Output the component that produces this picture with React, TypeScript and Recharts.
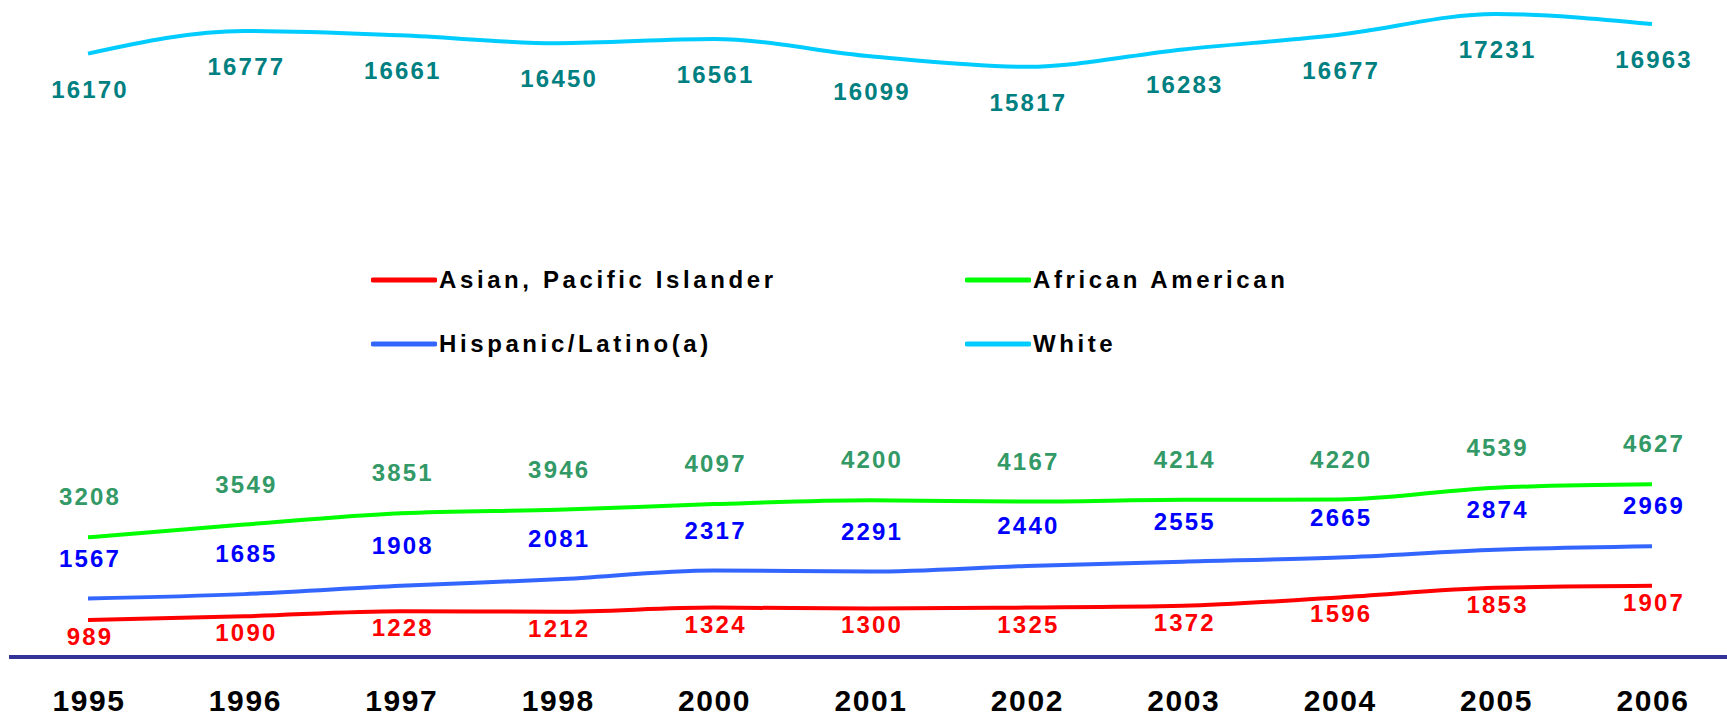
import { LineChart, Line, XAxis, YAxis, Legend } from "recharts";

const years = ["1995", "1996", "1997", "1998", "2000", "2001", "2002", "2003", "2004", "2005", "2006"];
const asian = [989, 1090, 1228, 1212, 1324, 1300, 1325, 1372, 1596, 1853, 1907];
const african = [3208, 3549, 3851, 3946, 4097, 4200, 4167, 4214, 4220, 4539, 4627];
const hispanic = [1567, 1685, 1908, 2081, 2317, 2291, 2440, 2555, 2665, 2874, 2969];
const white = [16170, 16777, 16661, 16450, 16561, 16099, 15817, 16283, 16677, 17231, 16963];

const data = years.map((year, i) => ({
  year,
  asian: asian[i],
  african: african[i],
  hispanic: hispanic[i],
  white: white[i],
}));

const FONT = "'Liberation Sans', Arial, sans-serif";

const series = [
  { key: "asian", name: "Asian, Pacific Islander", stroke: "#ff0000", text: "#ff0000", dy: 17 },
  { key: "african", name: "African American", stroke: "#00ff00", text: "#339966", dy: -40 },
  { key: "hispanic", name: "Hispanic/Latino(a)", stroke: "#3366ff", text: "#0000ff", dy: -40 },
  { key: "white", name: "White", stroke: "#00ccff", text: "#008080", dy: 36 },
];

const makeLabel = (color: string, dy: number) => (props: any) => {
  const { x, y, value, index } = props;
  return (
    <text
      key={`lbl-${color}-${index}`}
      x={x + 2}
      y={y + dy + 8}
      textAnchor="middle"
      fill={color}
      fontFamily={FONT}
      fontWeight="bold"
      fontSize={24}
      letterSpacing={2.2}
    >
      {value}
    </text>
  );
};

const YearTick = (props: any) => {
  const { x, y, payload } = props;
  return (
    <text
      x={x + 1}
      y={y + 54}
      textAnchor="middle"
      fill="#000000"
      fontFamily={FONT}
      fontWeight="bold"
      fontSize={30}
      letterSpacing={1.6}
    >
      {payload.value}
    </text>
  );
};

const legendRows = [
  [series[0], series[1]],
  [series[2], series[3]],
];

const renderLegend = () => (
  <div style={{ fontFamily: FONT, fontWeight: "bold", fontSize: 24, letterSpacing: 3.6, color: "#000" }}>
    {legendRows.map((row, r) => (
      <div key={r} style={{ display: "flex", height: 64, alignItems: "center" }}>
        {row.map((s) => (
          <div key={s.key} style={{ display: "flex", alignItems: "center", width: 594 }}>
            <svg width={66} height={8} style={{ marginRight: 2 }}>
              <line x1={2} y1={4} x2={64} y2={4} stroke={s.stroke} strokeWidth={5} strokeLinecap="round" />
            </svg>
            <span>{s.name}</span>
          </div>
        ))}
      </div>
    ))}
  </div>
);

export default function App() {
  return (
    <div style={{ position: "absolute", left: 0, top: 0, background: "#ffffff" }}>
      <LineChart width={1727} height={718} data={data} margin={{ top: 4, right: 0, left: 9, bottom: 0 }}>
        <XAxis
          dataKey="year"
          height={61}
          padding={{ left: 79, right: 75 }}
          axisLine={{ stroke: "#333399", strokeWidth: 4 }}
          tickLine={false}
          tickSize={0}
          tickMargin={0}
          tick={<YearTick />}
          interval={0}
        />
        <YAxis hide domain={[0, 17500]} />
        <Legend
          layout="vertical"
          align="center"
          verticalAlign="middle"
          content={renderLegend}
          wrapperStyle={{ position: "absolute", left: 371, top: 248, width: 1200 }}
        />
        {series.map((s) => (
          <Line
            key={s.key}
            type="monotone"
            dataKey={s.key}
            name={s.name}
            stroke={s.stroke}
            strokeWidth={4}
            dot={false}
            activeDot={false}
            isAnimationActive={false}
            label={makeLabel(s.text, s.dy)}
          />
        ))}
      </LineChart>
    </div>
  );
}
